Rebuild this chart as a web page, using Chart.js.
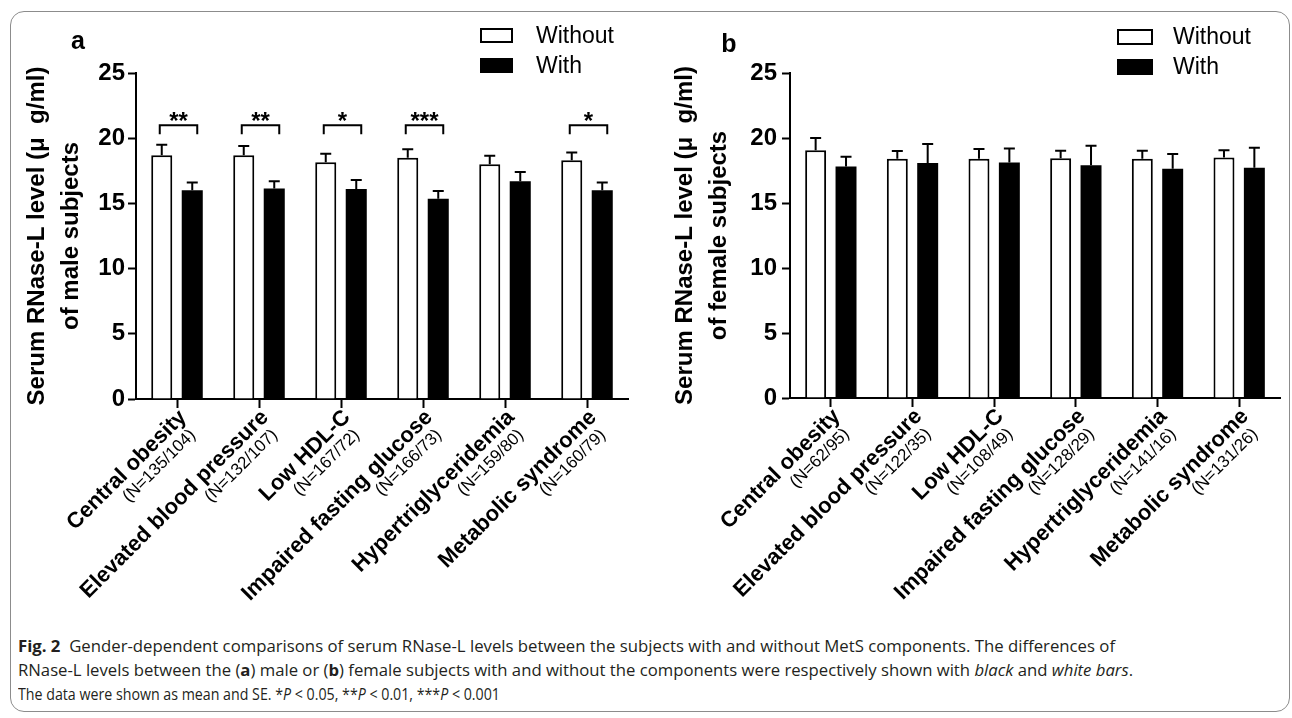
<!DOCTYPE html>
<html>
<head>
<meta charset="utf-8">
<script src="https://cdn.jsdelivr.net/npm/chart.js@4.4.1/dist/chart.umd.min.js"></script>
<style>
  body { margin: 0; width: 1292px; height: 718px; background: #fff; position: relative; overflow: hidden; }
  .frame { position: absolute; left: 10px; top: 11px; width: 1278px; height: 699px; border: 1.5px solid #8c8c8c; border-radius: 14px; }
  canvas { position: absolute; top: 0; }
  #maleChart { left: 0; }
  #femaleChart { left: 646px; }
  .caption { position: absolute; left: 18px; top: 634px; font-family: "Open Sans", sans-serif; font-size: 16px; line-height: 24px; color: #231f20; }
  .caption div { white-space: nowrap; transform-origin: left center; width: max-content; }
</style>
</head>
<body>
<div class="frame"></div>
<canvas id="maleChart" width="646" height="620"></canvas>
<canvas id="femaleChart" width="646" height="620"></canvas>
<div class="caption">
  <div data-w="1097"><b>Fig. 2</b>&nbsp; Gender-dependent comparisons of serum RNase-L levels between the subjects with and without MetS components. The differences of</div>
  <div data-w="1115">RNase-L levels between the (<b>a</b>) male or (<b>b</b>) female subjects with and without the components were respectively shown with <i>black</i> and <i>white bars</i>.</div>
  <div data-w="482">The data were shown as mean and SE. *<i>P</i> &lt; 0.05, **<i>P</i> &lt; 0.01, ***<i>P</i> &lt; 0.001</div>
</div>
<script>
// Data
const categories = ["Central obesity", "Elevated blood pressure", "Low HDL-C", "Impaired fasting glucose", "Hypertriglyceridemia", "Metabolic syndrome"];
const maleN = ["(N=135/104)", "(N=132/107)", "(N=167/72)", "(N=166/73)", "(N=159/80)", "(N=160/79)"];
const femaleN = ["(N=62/95)", "(N=122/35)", "(N=108/49)", "(N=128/29)", "(N=141/16)", "(N=131/26)"];

const maleWithout = [18.7, 18.7, 18.15, 18.5, 18.0, 18.3];
const maleWithoutSE = [0.8, 0.7, 0.65, 0.65, 0.65, 0.6];
const maleWith = [16.0, 16.15, 16.1, 15.35, 16.7, 16.0];
const maleWithSE = [0.6, 0.55, 0.7, 0.6, 0.7, 0.6];
const maleStars = ["**", "**", "*", "***", "", "*"];

const femaleWithout = [19.05, 18.4, 18.4, 18.45, 18.4, 18.5];
const femaleWithoutSE = [0.95, 0.6, 0.75, 0.57, 0.62, 0.56];
const femaleWith = [17.8, 18.07, 18.12, 17.9, 17.64, 17.71];
const femaleWithSE = [0.75, 1.46, 1.08, 1.5, 1.13, 1.54];

const yTicksStep = 5;
const FONT = "'Liberation Sans', Arial, sans-serif";

// Error bars (mean + SE, upward only)
const errorBars = {
  id: "errorBars",
  afterDatasetsDraw(chart) {
    const { ctx } = chart;
    const y = chart.scales.y;
    ctx.save();
    ctx.strokeStyle = "#000";
    ctx.lineWidth = 2;
    chart.data.datasets.forEach((ds, i) => {
      chart.getDatasetMeta(i).data.forEach((bar, j) => {
        const top = y.getPixelForValue(ds.data[j] + ds.se[j]);
        ctx.beginPath();
        ctx.moveTo(bar.x, bar.y);
        ctx.lineTo(bar.x, top);
        ctx.moveTo(bar.x - 5.5, top);
        ctx.lineTo(bar.x + 5.5, top);
        ctx.stroke();
      });
    });
    ctx.restore();
  },
};

// Significance brackets
const brackets = {
  id: "brackets",
  afterDatasetsDraw(chart, args, opts) {
    if (!opts.stars) return;
    const { ctx } = chart;
    const y = chart.scales.y;
    const a = chart.getDatasetMeta(0).data;
    const b = chart.getDatasetMeta(1).data;
    ctx.save();
    ctx.strokeStyle = "#000";
    ctx.fillStyle = "#000";
    ctx.lineWidth = 2;
    ctx.font = "bold 24px " + FONT;
    ctx.textAlign = "center";
    opts.stars.forEach((s, i) => {
      if (!s) return;
      const x1 = a[i].x - 2, x2 = b[i].x + 5;
      const yTop = y.getPixelForValue(21.0), yLeg = y.getPixelForValue(20.3);
      ctx.beginPath();
      ctx.moveTo(x1, yLeg);
      ctx.lineTo(x1, yTop);
      ctx.lineTo(x2, yTop);
      ctx.lineTo(x2, yLeg);
      ctx.stroke();
      ctx.fillText(s, (x1 + x2) / 2, y.getPixelForValue(21.8) + 14);
    });
    ctx.restore();
  },
};

// Rotated two-line category labels
const xLabels = {
  id: "xLabels",
  afterDraw(chart, args, opts) {
    const { ctx } = chart;
    const x = chart.scales.x;
    ctx.save();
    ctx.fillStyle = "#000";
    chart.data.labels.forEach((name, i) => {
      const px = x.getPixelForTick(i);
      ctx.save();
      ctx.translate(px + 6, x.top + 15);
      ctx.rotate(-Math.PI / 4);
      ctx.textAlign = "right";
      ctx.textBaseline = "middle";
      ctx.font = "bold 22px " + FONT;
      ctx.fillText(name, 0, 0);
      ctx.font = "17px " + FONT;
      ctx.fillText(opts.counts[i], -6, 20);
      ctx.restore();
    });
    ctx.restore();
  },
};

// Legend and panel letter
const panelDecor = {
  id: "panelDecor",
  afterDraw(chart, args, opts) {
    const { ctx } = chart;
    ctx.save();
    ctx.fillStyle = "#000";
    ctx.font = "bold 25px " + FONT;
    ctx.textAlign = "center";
    ctx.fillText(opts.letter, opts.letterX, opts.letterY);
    ctx.font = "23px " + FONT;
    ctx.textAlign = "left";
    ctx.textBaseline = "middle";
    chart.data.datasets.forEach((ds, i) => {
      const top = opts.boxY + i * 30;
      ctx.fillStyle = ds.backgroundColor;
      ctx.fillRect(opts.boxX, top, opts.boxW, opts.boxH);
      ctx.strokeStyle = "#000";
      ctx.lineWidth = 2;
      ctx.strokeRect(opts.boxX + 1, top + 1, opts.boxW - 2, opts.boxH - 2);
      ctx.fillStyle = "#000";
      ctx.fillText(ds.label, opts.textX, top + opts.boxH / 2 + 1);
    });
    ctx.restore();
  },
};

function makeChart(id, without, withoutSE, withv, withSE, counts, title2, layout, decor, stars) {
  return new Chart(document.getElementById(id), {
    type: "bar",
    data: {
      labels: categories,
      datasets: [
        { label: "Without", data: without, se: withoutSE, backgroundColor: "#fff", borderColor: "#000", borderWidth: 2 },
        { label: "With", data: withv, se: withSE, backgroundColor: "#000", borderColor: "#000", borderWidth: 0 },
      ],
    },
    options: {
      responsive: false,
      animation: false,
      devicePixelRatio: 1,
      categoryPercentage: 0.744,
      barPercentage: 0.69,
      layout: { padding: layout.padding },
      plugins: {
        legend: { display: false },
        tooltip: { enabled: false },
        xLabels: { counts },
        panelDecor: decor,
        brackets: { stars },
      },
      scales: {
        x: {
          offset: true,
          grid: { offset: false, drawOnChartArea: false, tickLength: 9, tickWidth: 2, tickColor: "#000" },
          border: { color: "#000", width: 2 },
          ticks: { display: false },
          afterFit(s) { s.height = 20; },
        },
        y: {
          min: 0,
          max: 25,
          ticks: { stepSize: yTicksStep, color: "#000", padding: layout.tickPad, font: { family: FONT, size: 24, weight: "bold" } },
          grid: { drawOnChartArea: false, tickLength: 8, tickWidth: 2, tickColor: "#000" },
          border: { color: "#000", width: 2 },
          title: {
            display: true,
            text: ["Serum RNase-L level (\u03bc  g/ml)", title2],
            color: "#000",
            padding: 0,
            font: { family: FONT, size: 24, weight: "bold", lineHeight: 1.4 },
          },
          afterFit(s) { s.width = layout.yWidth; },
        },
      },
    },
    plugins: [errorBars, brackets, xLabels, panelDecor],
  });
}

makeChart("maleChart", maleWithout, maleWithoutSE, maleWith, maleWithSE, maleN, "of male subjects",
  { padding: { left: 20.5, top: 73, right: 18, bottom: 201 }, yWidth: 115.5, tickPad: 3 },
  { letter: "a", letterX: 78, letterY: 49, boxX: 480, boxY: 28, boxW: 33, boxH: 15, textX: 536 },
  maleStars);

makeChart("femaleChart", femaleWithout, femaleWithoutSE, femaleWith, femaleWithSE, femaleN, "of female subjects",
  { padding: { left: 22.5, top: 73, right: 12, bottom: 202 }, yWidth: 121.5, tickPad: 5 },
  { letter: "b", letterX: 83, letterY: 52, boxX: 471, boxY: 29, boxW: 36, boxH: 16, textX: 527 },
  null);

// fit caption lines to the measured widths of the original figure
document.querySelectorAll(".caption div").forEach((d) => {
  const w = d.getBoundingClientRect().width;
  d.style.transform = "scaleX(" + (Number(d.dataset.w) / w).toFixed(4) + ")";
});
</script>
</body>
</html>
